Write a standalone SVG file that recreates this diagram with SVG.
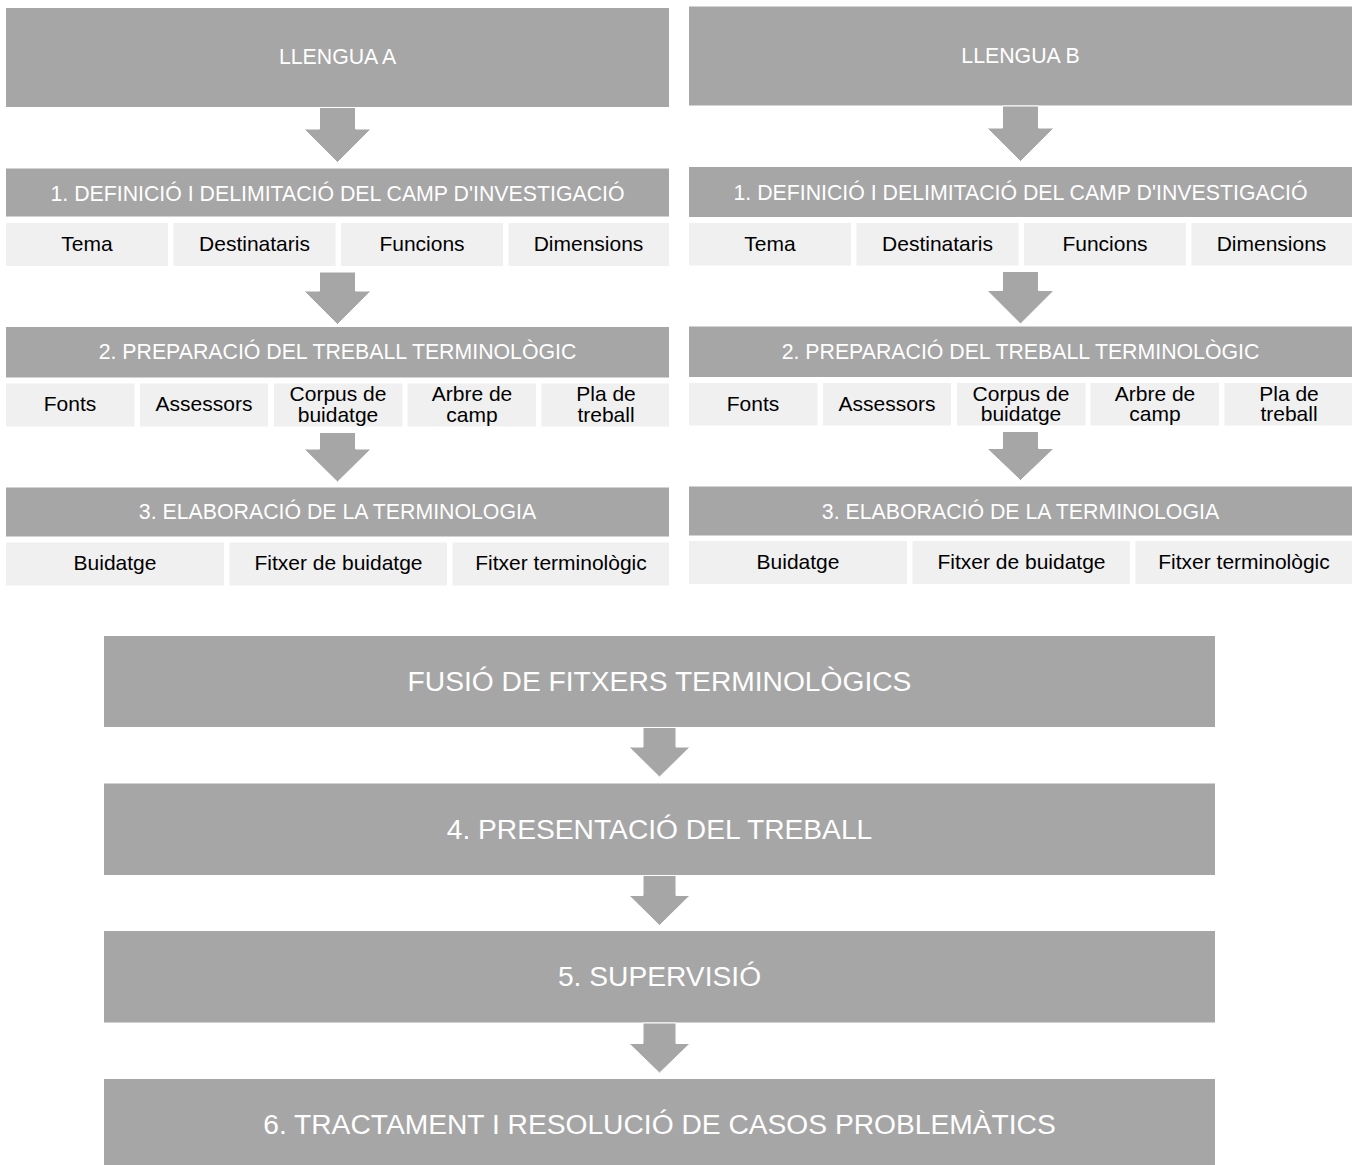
<svg xmlns="http://www.w3.org/2000/svg" width="1359" height="1165" viewBox="0 0 1359 1165">
  <style>
    .hd { fill: #A6A6A6; }
    .sb { fill: #F0F0F0; }
    .arr { fill: #A6A6A6; stroke: #FFFFFF; stroke-width: 1; stroke-linejoin: round; }
    .ht { font-family: "Liberation Sans", Arial, sans-serif; font-size: 21.3px; fill: #FFFFFF; text-anchor: middle; }
    .st { font-family: "Liberation Sans", Arial, sans-serif; font-size: 21px; fill: #000000; text-anchor: middle; }
    .bt { font-family: "Liberation Sans", Arial, sans-serif; font-size: 28.2px; fill: #FFFFFF; text-anchor: middle; }
  </style>
  <rect width="1359" height="1165" fill="#FFFFFF"/>

  <!-- Language A column -->
  <g id="llengua-a">
    <rect class="hd" x="6" y="8" width="663" height="99"/>
    <text class="ht" x="337.5" y="64">LLENGUA A</text>
  </g>
  <g id="a-fase1">
    <rect class="hd" x="6" y="168.5" width="663" height="48"/>
    <text class="ht" x="337.5" y="201">1. DEFINICIÓ I DELIMITACIÓ DEL CAMP D'INVESTIGACIÓ</text>
  </g>
  <g id="a-fase1-items">
    <rect class="sb" x="6" y="223" width="162" height="43"/>
    <rect class="sb" x="173.5" y="223" width="162" height="43"/>
    <rect class="sb" x="341" y="223" width="162" height="43"/>
    <rect class="sb" x="508.5" y="223" width="160.5" height="43"/>
    <text class="st" x="87" y="250.5">Tema</text>
    <text class="st" x="254.5" y="250.5">Destinataris</text>
    <text class="st" x="422" y="250.5">Funcions</text>
    <text class="st" x="588.5" y="250.5">Dimensions</text>
  </g>
  <g id="a-fase2">
    <rect class="hd" x="6" y="327" width="663" height="50.5"/>
    <text class="ht" x="337.5" y="358.5">2. PREPARACIÓ DEL TREBALL TERMINOLÒGIC</text>
  </g>
  <g id="a-fase2-items">
    <rect class="sb" x="6" y="383.5" width="128.5" height="43"/>
    <rect class="sb" x="140" y="383.5" width="128" height="43"/>
    <rect class="sb" x="274" y="383.5" width="128.5" height="43"/>
    <rect class="sb" x="407.5" y="383.5" width="128.5" height="43"/>
    <rect class="sb" x="541.5" y="383.5" width="127.5" height="43"/>
    <text class="st" x="70" y="411">Fonts</text>
    <text class="st" x="204" y="411">Assessors</text>
    <text class="st" x="338" y="401">Corpus de</text>
    <text class="st" x="338" y="421.5">buidatge</text>
    <text class="st" x="472" y="401">Arbre de</text>
    <text class="st" x="472" y="421.5">camp</text>
    <text class="st" x="606" y="401">Pla de</text>
    <text class="st" x="606" y="421.5">treball</text>
  </g>
  <g id="a-fase3">
    <rect class="hd" x="6" y="487.5" width="663" height="49"/>
    <text class="ht" x="337.5" y="519">3. ELABORACIÓ DE LA TERMINOLOGIA</text>
  </g>
  <g id="a-fase3-items">
    <rect class="sb" x="6" y="542.5" width="218" height="43"/>
    <rect class="sb" x="229.5" y="542.5" width="217.5" height="43"/>
    <rect class="sb" x="452.5" y="542.5" width="216.5" height="43"/>
    <text class="st" x="115" y="570">Buidatge</text>
    <text class="st" x="338.5" y="570">Fitxer de buidatge</text>
    <text class="st" x="561" y="570">Fitxer terminològic</text>
  </g>

  <!-- Language B column -->
  <g id="llengua-b">
    <rect class="hd" x="689" y="6.5" width="663" height="99"/>
    <text class="ht" x="1020.5" y="62.5">LLENGUA B</text>
  </g>
  <g id="b-fase1">
    <rect class="hd" x="689" y="167" width="663" height="50"/>
    <text class="ht" x="1020.5" y="199.5">1. DEFINICIÓ I DELIMITACIÓ DEL CAMP D'INVESTIGACIÓ</text>
  </g>
  <g id="b-fase1-items">
    <rect class="sb" x="689" y="223" width="162" height="42.5"/>
    <rect class="sb" x="856.5" y="223" width="162" height="42.5"/>
    <rect class="sb" x="1024" y="223" width="162" height="42.5"/>
    <rect class="sb" x="1191.5" y="223" width="160.5" height="42.5"/>
    <text class="st" x="770" y="250.5">Tema</text>
    <text class="st" x="937.5" y="250.5">Destinataris</text>
    <text class="st" x="1105" y="250.5">Funcions</text>
    <text class="st" x="1271.5" y="250.5">Dimensions</text>
  </g>
  <g id="b-fase2">
    <rect class="hd" x="689" y="326.5" width="663" height="50.5"/>
    <text class="ht" x="1020.5" y="358.5">2. PREPARACIÓ DEL TREBALL TERMINOLÒGIC</text>
  </g>
  <g id="b-fase2-items">
    <rect class="sb" x="689" y="383" width="128.5" height="42.5"/>
    <rect class="sb" x="823" y="383" width="128" height="42.5"/>
    <rect class="sb" x="957" y="383" width="128.5" height="42.5"/>
    <rect class="sb" x="1090.5" y="383" width="128.5" height="42.5"/>
    <rect class="sb" x="1224.5" y="383" width="127.5" height="42.5"/>
    <text class="st" x="753" y="410.5">Fonts</text>
    <text class="st" x="887" y="410.5">Assessors</text>
    <text class="st" x="1021" y="400.5">Corpus de</text>
    <text class="st" x="1021" y="421">buidatge</text>
    <text class="st" x="1155" y="400.5">Arbre de</text>
    <text class="st" x="1155" y="421">camp</text>
    <text class="st" x="1289" y="400.5">Pla de</text>
    <text class="st" x="1289" y="421">treball</text>
  </g>
  <g id="b-fase3">
    <rect class="hd" x="689" y="486.5" width="663" height="49"/>
    <text class="ht" x="1020.5" y="518.5">3. ELABORACIÓ DE LA TERMINOLOGIA</text>
  </g>
  <g id="b-fase3-items">
    <rect class="sb" x="689" y="541" width="218" height="43"/>
    <rect class="sb" x="912.5" y="541" width="217.5" height="43"/>
    <rect class="sb" x="1135.5" y="541" width="216.5" height="43"/>
    <text class="st" x="798" y="568.5">Buidatge</text>
    <text class="st" x="1021.5" y="568.5">Fitxer de buidatge</text>
    <text class="st" x="1244" y="568.5">Fitxer terminològic</text>
  </g>

  <!-- Shared stages -->
  <g id="fusio">
    <rect class="hd" x="104" y="636" width="1111" height="91"/>
    <text class="bt" x="659.5" y="691">FUSIÓ DE FITXERS TERMINOLÒGICS</text>
  </g>
  <g id="fase4">
    <rect class="hd" x="104" y="783.5" width="1111" height="91.5"/>
    <text class="bt" x="659.5" y="838.5">4. PRESENTACIÓ DEL TREBALL</text>
  </g>
  <g id="fase5">
    <rect class="hd" x="104" y="931" width="1111" height="91.5"/>
    <text class="bt" x="659.5" y="985.5">5. SUPERVISIÓ</text>
  </g>
  <g id="fase6">
    <rect class="hd" x="104" y="1079" width="1111" height="91"/>
    <text class="bt" x="659.5" y="1134">6. TRACTAMENT I RESOLUCIÓ DE CASOS PROBLEMÀTICS</text>
  </g>

  <!-- Block arrows between stages -->
  <g id="connectors">
    <path class="arr" d="M319.5,107.5 H355.5 V129 H371 L337.5,162.5 L304,129 H319.5 Z"/>
    <path class="arr" d="M319.5,272 H355.5 V291 H371 L337.5,324.5 L304,291 H319.5 Z"/>
    <path class="arr" d="M319.5,432.5 H355.5 V449 H371 L337.5,482 L304,449 H319.5 Z"/>
    <path class="arr" d="M1002.5,106 H1038.5 V128 H1054 L1020.5,161.5 L987,128 H1002.5 Z"/>
    <path class="arr" d="M1002.5,271.5 H1038.5 V290.5 H1054 L1020.5,324 L987,290.5 H1002.5 Z"/>
    <path class="arr" d="M1002.5,431.5 H1038.5 V448.5 H1054 L1020.5,480.5 L987,448.5 H1002.5 Z"/>
    <path class="arr" d="M643,727.5 H676 V747 H690 L659.5,777 L629,747 H643 Z"/>
    <path class="arr" d="M643,875.5 H676 V895.5 H690 L659.5,925.5 L629,895.5 H643 Z"/>
    <path class="arr" d="M643,1023 H676 V1043.5 H690 L659.5,1073 L629,1043.5 H643 Z"/>
  </g>
</svg>
